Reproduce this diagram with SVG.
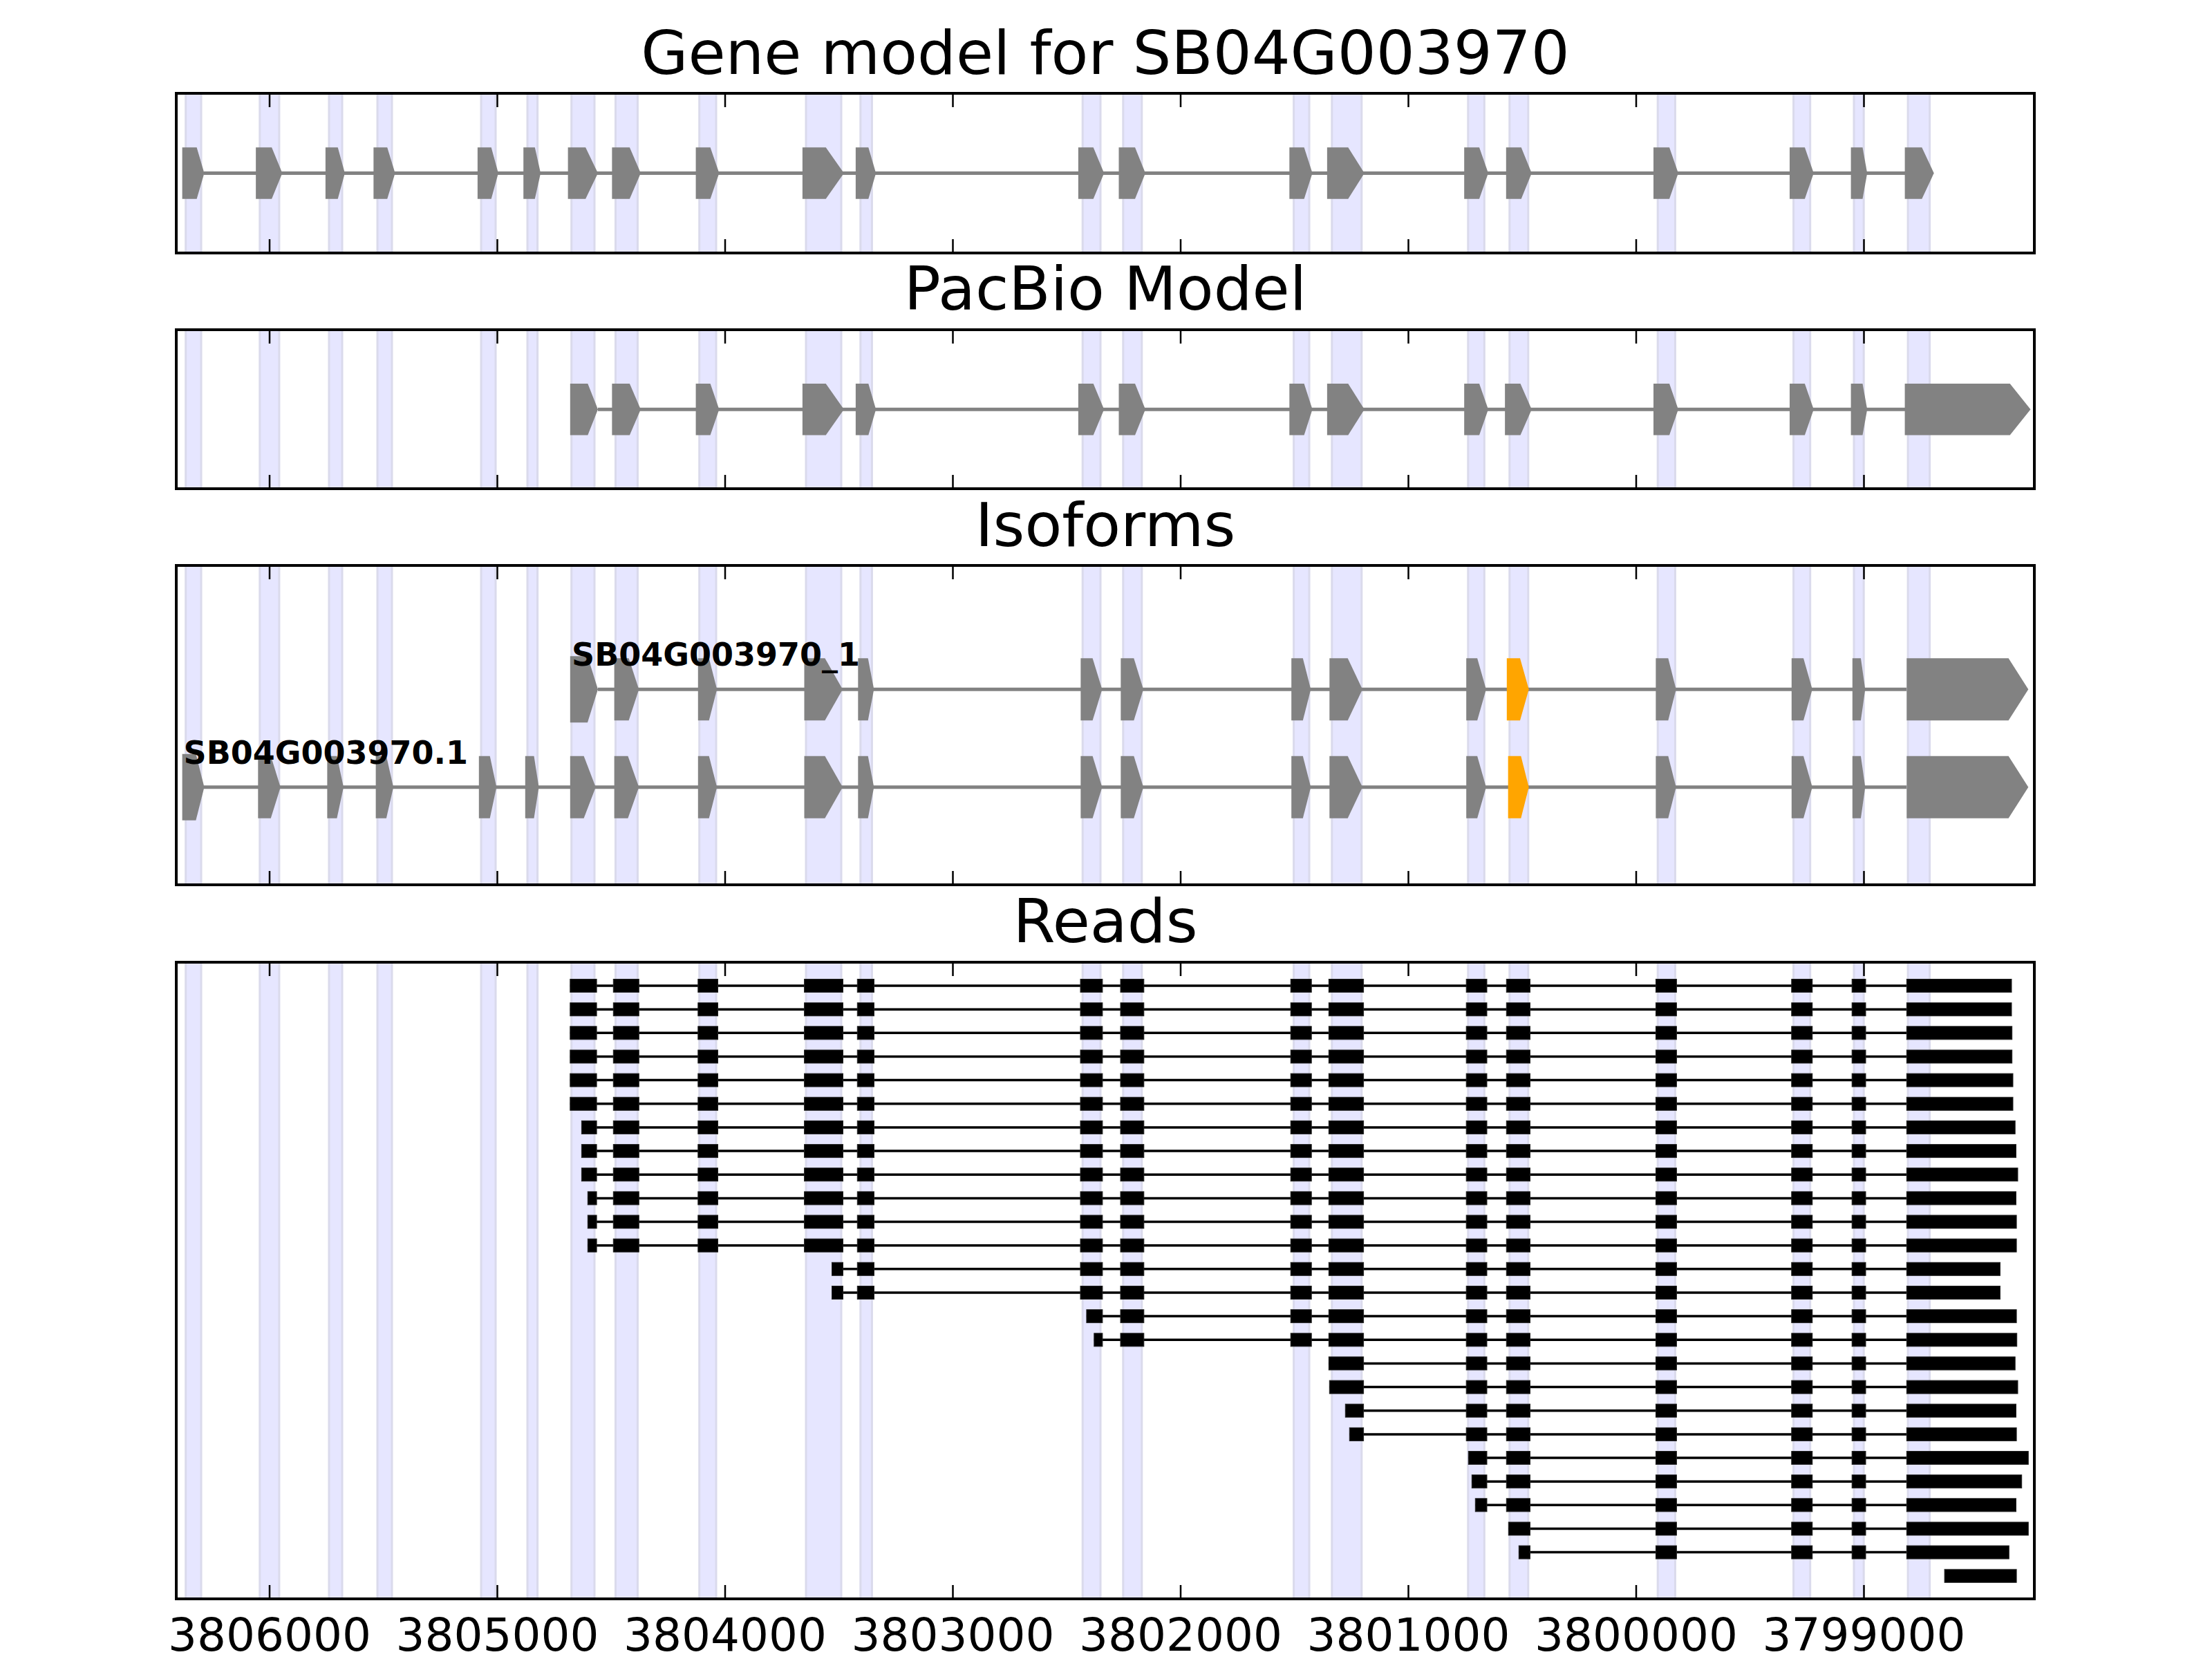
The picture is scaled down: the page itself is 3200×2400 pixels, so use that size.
<svg xmlns="http://www.w3.org/2000/svg" width="3200" height="2400" viewBox="0 0 3200 2400">
<style>
.band{fill:#E6E6FF;stroke:#DADAEC;stroke-width:3}
.ex{fill:#828282}
.or{fill:#FFA500}
.intr{stroke:#828282;stroke-width:5}
.rex{fill:#000;stroke:#222;stroke-width:1}
.rin{stroke:#000;stroke-width:3.5}
.frame{fill:none;stroke:#000;stroke-width:4}
.tick{stroke:#000;stroke-width:2.5}
.title{font-family:'DejaVu Sans',sans-serif;font-size:88px;text-anchor:middle;fill:#000}
.tl{font-family:'DejaVu Sans',sans-serif;font-size:66px;text-anchor:middle;fill:#000}
.lab{font-family:'DejaVu Sans',sans-serif;font-weight:bold;font-size:46px;fill:#000}
</style>
<defs>
<g id="bands">
<rect class="band" x="268.7" y="0" width="22.3" height="2400"/>
<rect class="band" x="375.8" y="0" width="28.1" height="2400"/>
<rect class="band" x="476" y="0" width="19" height="2400"/>
<rect class="band" x="546" y="0" width="21" height="2400"/>
<rect class="band" x="696" y="0" width="21" height="2400"/>
<rect class="band" x="763" y="0" width="14.6" height="2400"/>
<rect class="band" x="826.7" y="0" width="33.3" height="2400"/>
<rect class="band" x="890.5" y="0" width="31.9" height="2400"/>
<rect class="band" x="1011.7" y="0" width="24.3" height="2400"/>
<rect class="band" x="1166" y="0" width="51" height="2400"/>
<rect class="band" x="1244.8" y="0" width="16.6" height="2400"/>
<rect class="band" x="1566.2" y="0" width="25.8" height="2400"/>
<rect class="band" x="1624.8" y="0" width="27" height="2400"/>
<rect class="band" x="1871.6" y="0" width="22.4" height="2400"/>
<rect class="band" x="1926.8" y="0" width="43" height="2400"/>
<rect class="band" x="2123.8" y="0" width="23.5" height="2400"/>
<rect class="band" x="2183.8" y="0" width="27" height="2400"/>
<rect class="band" x="2398.2" y="0" width="25.2" height="2400"/>
<rect class="band" x="2594.6" y="0" width="24.1" height="2400"/>
<rect class="band" x="2682" y="0" width="14.2" height="2400"/>
<rect class="band" x="2760.1" y="0" width="31.5" height="2400"/>
</g>
<clipPath id="c1"><rect x="255" y="135" width="2688" height="231"/></clipPath>
<clipPath id="c2"><rect x="255" y="477" width="2688" height="230"/></clipPath>
<clipPath id="c3"><rect x="255" y="818" width="2688" height="462"/></clipPath>
<clipPath id="c4"><rect x="255" y="1392" width="2688" height="921"/></clipPath>
<g id="X18">
<rect class="rex" x="2395.4" y="-9.5" width="30" height="19"/>
<rect class="rex" x="2591.8" y="-9.5" width="30" height="19"/>
<rect class="rex" x="2679.2" y="-9.5" width="19.8" height="19"/>
</g>
<g id="X17"><rect class="rex" x="2179.3" y="-9.5" width="34.2" height="19"/><use href="#X18"/></g>
<g id="X16"><rect class="rex" x="2121.2" y="-9.5" width="29.8" height="19"/><use href="#X17"/></g>
<g id="X13">
<rect class="rex" x="1621" y="-9.5" width="33.8" height="19"/>
<rect class="rex" x="1867.2" y="-9.5" width="30" height="19"/>
<rect class="rex" x="1922.3" y="-9.5" width="50.3" height="19"/>
<use href="#X16"/>
</g>
<g id="X11">
<rect class="rex" x="1240.3" y="-9.5" width="24.2" height="19"/>
<rect class="rex" x="1563" y="-9.5" width="31.9" height="19"/>
<use href="#X13"/>
</g>
<g id="X8">
<rect class="rex" x="887.3" y="-9.5" width="37" height="19"/>
<rect class="rex" x="1009.8" y="-9.5" width="28.7" height="19"/>
<rect class="rex" x="1163.6" y="-9.5" width="55.9" height="19"/>
<use href="#X11"/>
</g>
</defs>
<rect x="0" y="0" width="3200" height="2400" fill="#fff"/>

<g id="bands-all">
<use href="#bands" clip-path="url(#c1)"/>
<use href="#bands" clip-path="url(#c2)"/>
<use href="#bands" clip-path="url(#c3)"/>
<use href="#bands" clip-path="url(#c4)"/>
</g>

<g id="panel-gene-model">
<line class="intr" x1="295" y1="250.5" x2="2756" y2="250.5"/>
<polygon class="ex" points="263.6,213.3 284.6,213.3 295.5,250.5 284.6,287.7 263.6,287.7"/>
<polygon class="ex" points="370.1,213.3 393.1,213.3 408.4,250.5 393.1,287.7 370.1,287.7"/>
<polygon class="ex" points="470.9,213.3 488.7,213.3 498.9,250.5 488.7,287.7 470.9,287.7"/>
<polygon class="ex" points="540.4,213.3 560.2,213.3 571.6,250.5 560.2,287.7 540.4,287.7"/>
<polygon class="ex" points="690.9,213.3 710.7,213.3 720.9,250.5 710.7,287.7 690.9,287.7"/>
<polygon class="ex" points="757.2,213.3 773.8,213.3 782.1,250.5 773.8,287.7 757.2,287.7"/>
<polygon class="ex" points="821.6,213.3 847.1,213.3 865,250.5 847.1,287.7 821.6,287.7"/>
<polygon class="ex" points="885.4,213.3 910.9,213.3 926.9,250.5 910.9,287.7 885.4,287.7"/>
<polygon class="ex" points="1006.6,213.3 1027.6,213.3 1040.4,250.5 1027.6,287.7 1006.6,287.7"/>
<polygon class="ex" points="1160.9,213.3 1194.7,213.3 1220.9,250.5 1194.7,287.7 1160.9,287.7"/>
<polygon class="ex" points="1237.9,213.3 1256.3,213.3 1267.2,250.5 1256.3,287.7 1237.9,287.7"/>
<polygon class="ex" points="1559.9,213.3 1581.7,213.3 1597.2,250.5 1581.7,287.7 1559.9,287.7"/>
<polygon class="ex" points="1618.5,213.3 1642,213.3 1657,250.5 1642,287.7 1618.5,287.7"/>
<polygon class="ex" points="1865.3,213.3 1886.6,213.3 1898.6,250.5 1886.6,287.7 1865.3,287.7"/>
<polygon class="ex" points="1919.9,213.3 1950.3,213.3 1973.8,250.5 1950.3,287.7 1919.9,287.7"/>
<polygon class="ex" points="2118.2,213.3 2140,213.3 2153,250.5 2140,287.7 2118.2,287.7"/>
<polygon class="ex" points="2178.8,213.3 2200.7,213.3 2215.8,250.5 2200.7,287.7 2178.8,287.7"/>
<polygon class="ex" points="2392,213.3 2415,213.3 2427.9,250.5 2415,287.7 2392,287.7"/>
<polygon class="ex" points="2589,213.3 2610.9,213.3 2623.8,250.5 2610.9,287.7 2589,287.7"/>
<polygon class="ex" points="2677.6,213.3 2694.5,213.3 2701.2,250.5 2694.5,287.7 2677.6,287.7"/>
<polygon class="ex" points="2755.6,213.3 2780.3,213.3 2797.7,250.5 2780.3,287.7 2755.6,287.7"/>
</g>

<g id="panel-pacbio">
<line class="intr" x1="865" y1="592.3" x2="2756" y2="592.3"/>
<polygon class="ex" points="824.8,555.1 850.3,555.1 865,592.3 850.3,629.5 824.8,629.5"/>
<polygon class="ex" points="885.4,555.1 910.9,555.1 926.9,592.3 910.9,629.5 885.4,629.5"/>
<polygon class="ex" points="1006.6,555.1 1027.6,555.1 1040.4,592.3 1027.6,629.5 1006.6,629.5"/>
<polygon class="ex" points="1160.9,555.1 1194.7,555.1 1220.9,592.3 1194.7,629.5 1160.9,629.5"/>
<polygon class="ex" points="1237.9,555.1 1256.3,555.1 1267.2,592.3 1256.3,629.5 1237.9,629.5"/>
<polygon class="ex" points="1559.9,555.1 1581.7,555.1 1597.2,592.3 1581.7,629.5 1559.9,629.5"/>
<polygon class="ex" points="1618.5,555.1 1642,555.1 1657,592.3 1642,629.5 1618.5,629.5"/>
<polygon class="ex" points="1865.3,555.1 1886.6,555.1 1898.6,592.3 1886.6,629.5 1865.3,629.5"/>
<polygon class="ex" points="1919.9,555.1 1950.3,555.1 1973.8,592.3 1950.3,629.5 1919.9,629.5"/>
<polygon class="ex" points="2118.2,555.1 2140,555.1 2153,592.3 2140,629.5 2118.2,629.5"/>
<polygon class="ex" points="2177.1,555.1 2199.5,555.1 2215.8,592.3 2199.5,629.5 2177.1,629.5"/>
<polygon class="ex" points="2392,555.1 2415,555.1 2427.9,592.3 2415,629.5 2392,629.5"/>
<polygon class="ex" points="2589,555.1 2610.9,555.1 2623.8,592.3 2610.9,629.5 2589,629.5"/>
<polygon class="ex" points="2677.6,555.1 2694.5,555.1 2701.2,592.3 2694.5,629.5 2677.6,629.5"/>
<polygon class="ex" points="2755.6,555.1 2907.7,555.1 2937.5,592.3 2907.7,629.5 2755.6,629.5"/>
</g>

<g id="panel-isoforms">
<g id="isoform-SB04G003970_1">
<line class="intr" x1="865" y1="997.3" x2="2758" y2="997.3"/>
<polygon class="ex" points="824.8,949.3 850,949.3 865,997.3 850,1045.3 824.8,1045.3"/>
<polygon class="ex" points="888.6,952.3 909.6,952.3 924.3,997.3 909.6,1042.3 888.6,1042.3"/>
<polygon class="ex" points="1009.8,952.3 1025.7,952.3 1037.2,997.3 1025.7,1042.3 1009.8,1042.3"/>
<polygon class="ex" points="1163.5,952.3 1193.4,952.3 1219,997.3 1193.4,1042.3 1163.5,1042.3"/>
<polygon class="ex" points="1241.3,952.3 1255.7,952.3 1264.3,997.3 1255.7,1042.3 1241.3,1042.3"/>
<polygon class="ex" points="1563.4,952.3 1580.6,952.3 1594.4,997.3 1580.6,1042.3 1563.4,1042.3"/>
<polygon class="ex" points="1621.4,952.3 1640.3,952.3 1654.1,997.3 1640.3,1042.3 1621.4,1042.3"/>
<polygon class="ex" points="1868.2,952.3 1884.8,952.3 1896.3,997.3 1884.8,1042.3 1868.2,1042.3"/>
<polygon class="ex" points="1923.3,952.3 1949.7,952.3 1971,997.3 1949.7,1042.3 1923.3,1042.3"/>
<polygon class="ex" points="2121.2,952.3 2137.1,952.3 2149.9,997.3 2137.1,1042.3 2121.2,1042.3"/>
<polygon class="or" points="2179.8,952.3 2199,952.3 2211.7,997.3 2199,1042.3 2179.8,1042.3"/>
<polygon class="ex" points="2395.4,952.3 2413.3,952.3 2424.7,997.3 2413.3,1042.3 2395.4,1042.3"/>
<polygon class="ex" points="2591.8,952.3 2609,952.3 2621.8,997.3 2609,1042.3 2591.8,1042.3"/>
<polygon class="ex" points="2679.8,952.3 2692,952.3 2698.3,997.3 2692,1042.3 2679.8,1042.3"/>
<polygon class="ex" points="2758.3,952.3 2905.6,952.3 2934.3,997.3 2905.6,1042.3 2758.3,1042.3"/>
<text class="lab" x="827" y="963">SB04G003970_1</text>
</g>
<g id="isoform-SB04G003970.1">
<line class="intr" x1="295" y1="1138.7" x2="2758" y2="1138.7"/>
<polygon class="ex" points="263.6,1090.7 283.4,1090.7 295.5,1138.7 283.4,1186.7 263.6,1186.7"/>
<polygon class="ex" points="373.3,1093.7 391.8,1093.7 405.8,1138.7 391.8,1183.7 373.3,1183.7"/>
<polygon class="ex" points="473.4,1093.7 487.4,1093.7 497,1138.7 487.4,1183.7 473.4,1183.7"/>
<polygon class="ex" points="543.6,1093.7 558.9,1093.7 569.1,1138.7 558.9,1183.7 543.6,1183.7"/>
<polygon class="ex" points="692.8,1093.7 708.7,1093.7 718.3,1138.7 708.7,1183.7 692.8,1183.7"/>
<polygon class="ex" points="759.8,1093.7 772.5,1093.7 779.5,1138.7 772.5,1183.7 759.8,1183.7"/>
<polygon class="ex" points="824.8,1093.7 844.6,1093.7 861.8,1138.7 844.6,1183.7 824.8,1183.7"/>
<polygon class="ex" points="888.6,1093.7 908.4,1093.7 924.3,1138.7 908.4,1183.7 888.6,1183.7"/>
<polygon class="ex" points="1009.8,1093.7 1025.7,1093.7 1037.2,1138.7 1025.7,1183.7 1009.8,1183.7"/>
<polygon class="ex" points="1163.5,1093.7 1193.4,1093.7 1219,1138.7 1193.4,1183.7 1163.5,1183.7"/>
<polygon class="ex" points="1241.3,1093.7 1255.7,1093.7 1264.3,1138.7 1255.7,1183.7 1241.3,1183.7"/>
<polygon class="ex" points="1563.4,1093.7 1580.6,1093.7 1594.4,1138.7 1580.6,1183.7 1563.4,1183.7"/>
<polygon class="ex" points="1621.4,1093.7 1640.3,1093.7 1654.1,1138.7 1640.3,1183.7 1621.4,1183.7"/>
<polygon class="ex" points="1868.2,1093.7 1884.8,1093.7 1896.3,1138.7 1884.8,1183.7 1868.2,1183.7"/>
<polygon class="ex" points="1923.3,1093.7 1949.7,1093.7 1971,1138.7 1949.7,1183.7 1923.3,1183.7"/>
<polygon class="ex" points="2121.2,1093.7 2137.1,1093.7 2149.9,1138.7 2137.1,1183.7 2121.2,1183.7"/>
<polygon class="or" points="2181.7,1093.7 2200.3,1093.7 2211.7,1138.7 2200.3,1183.7 2181.7,1183.7"/>
<polygon class="ex" points="2395.4,1093.7 2413.3,1093.7 2424.7,1138.7 2413.3,1183.7 2395.4,1183.7"/>
<polygon class="ex" points="2591.8,1093.7 2609,1093.7 2621.8,1138.7 2609,1183.7 2591.8,1183.7"/>
<polygon class="ex" points="2679.8,1093.7 2692,1093.7 2698.3,1138.7 2692,1183.7 2679.8,1183.7"/>
<polygon class="ex" points="2758.3,1093.7 2905.6,1093.7 2934.3,1138.7 2905.6,1183.7 2758.3,1183.7"/>
<text class="lab" x="265.5" y="1105">SB04G003970.1</text>
</g>
</g>

<g id="panel-reads">
<g id="read-0" transform="translate(0,1426)"><line class="rin" x1="824.8" y1="0" x2="2758.3" y2="0"/><rect class="rex" x="824.8" y="-9.5" width="38.3" height="19"/><use href="#X8"/><rect class="rex" x="2758.3" y="-9.5" width="151.7" height="19"/></g>
<g id="read-1" transform="translate(0,1460.2)"><line class="rin" x1="824.8" y1="0" x2="2758.3" y2="0"/><rect class="rex" x="824.8" y="-9.5" width="38.3" height="19"/><use href="#X8"/><rect class="rex" x="2758.3" y="-9.5" width="151.7" height="19"/></g>
<g id="read-2" transform="translate(0,1494.3)"><line class="rin" x1="824.8" y1="0" x2="2758.3" y2="0"/><rect class="rex" x="824.8" y="-9.5" width="38.3" height="19"/><use href="#X8"/><rect class="rex" x="2758.3" y="-9.5" width="152.4" height="19"/></g>
<g id="read-3" transform="translate(0,1528.5)"><line class="rin" x1="824.8" y1="0" x2="2758.3" y2="0"/><rect class="rex" x="824.8" y="-9.5" width="38.3" height="19"/><use href="#X8"/><rect class="rex" x="2758.3" y="-9.5" width="152.4" height="19"/></g>
<g id="read-4" transform="translate(0,1562.6)"><line class="rin" x1="824.8" y1="0" x2="2758.3" y2="0"/><rect class="rex" x="824.8" y="-9.5" width="38.3" height="19"/><use href="#X8"/><rect class="rex" x="2758.3" y="-9.5" width="153.7" height="19"/></g>
<g id="read-5" transform="translate(0,1596.8)"><line class="rin" x1="824.8" y1="0" x2="2758.3" y2="0"/><rect class="rex" x="824.8" y="-9.5" width="38.3" height="19"/><use href="#X8"/><rect class="rex" x="2758.3" y="-9.5" width="153.7" height="19"/></g>
<g id="read-6" transform="translate(0,1630.9)"><line class="rin" x1="841.4" y1="0" x2="2758.3" y2="0"/><rect class="rex" x="841.4" y="-9.5" width="21.7" height="19"/><use href="#X8"/><rect class="rex" x="2758.3" y="-9.5" width="156.9" height="19"/></g>
<g id="read-7" transform="translate(0,1665.1)"><line class="rin" x1="841.4" y1="0" x2="2758.3" y2="0"/><rect class="rex" x="841.4" y="-9.5" width="21.7" height="19"/><use href="#X8"/><rect class="rex" x="2758.3" y="-9.5" width="158.2" height="19"/></g>
<g id="read-8" transform="translate(0,1699.2)"><line class="rin" x1="841.4" y1="0" x2="2758.3" y2="0"/><rect class="rex" x="841.4" y="-9.5" width="21.7" height="19"/><use href="#X8"/><rect class="rex" x="2758.3" y="-9.5" width="160.7" height="19"/></g>
<g id="read-9" transform="translate(0,1733.4)"><line class="rin" x1="850.3" y1="0" x2="2758.3" y2="0"/><rect class="rex" x="850.3" y="-9.5" width="12.8" height="19"/><use href="#X8"/><rect class="rex" x="2758.3" y="-9.5" width="158.2" height="19"/></g>
<g id="read-10" transform="translate(0,1767.5)"><line class="rin" x1="850.3" y1="0" x2="2758.3" y2="0"/><rect class="rex" x="850.3" y="-9.5" width="12.8" height="19"/><use href="#X8"/><rect class="rex" x="2758.3" y="-9.5" width="158.8" height="19"/></g>
<g id="read-11" transform="translate(0,1801.7)"><line class="rin" x1="850.3" y1="0" x2="2758.3" y2="0"/><rect class="rex" x="850.3" y="-9.5" width="12.8" height="19"/><use href="#X8"/><rect class="rex" x="2758.3" y="-9.5" width="158.8" height="19"/></g>
<g id="read-12" transform="translate(0,1835.8)"><line class="rin" x1="1203.5" y1="0" x2="2758.3" y2="0"/><rect class="rex" x="1203.5" y="-9.5" width="16" height="19"/><use href="#X11"/><rect class="rex" x="2758.3" y="-9.5" width="135.2" height="19"/></g>
<g id="read-13" transform="translate(0,1870)"><line class="rin" x1="1203.5" y1="0" x2="2758.3" y2="0"/><rect class="rex" x="1203.5" y="-9.5" width="16" height="19"/><use href="#X11"/><rect class="rex" x="2758.3" y="-9.5" width="135.2" height="19"/></g>
<g id="read-14" transform="translate(0,1904.1)"><line class="rin" x1="1571.9" y1="0" x2="2758.3" y2="0"/><rect class="rex" x="1571.9" y="-9.5" width="23" height="19"/><use href="#X13"/><rect class="rex" x="2758.3" y="-9.5" width="158.8" height="19"/></g>
<g id="read-15" transform="translate(0,1938.3)"><line class="rin" x1="1582.8" y1="0" x2="2758.3" y2="0"/><rect class="rex" x="1582.8" y="-9.5" width="12.1" height="19"/><use href="#X13"/><rect class="rex" x="2758.3" y="-9.5" width="159.4" height="19"/></g>
<g id="read-16" transform="translate(0,1972.4)"><line class="rin" x1="1922.3" y1="0" x2="2758.3" y2="0"/><rect class="rex" x="1922.3" y="-9.5" width="50.3" height="19"/><use href="#X16"/><rect class="rex" x="2758.3" y="-9.5" width="156.9" height="19"/></g>
<g id="read-17" transform="translate(0,2006.6)"><line class="rin" x1="1923.3" y1="0" x2="2758.3" y2="0"/><rect class="rex" x="1923.3" y="-9.5" width="49.3" height="19"/><use href="#X16"/><rect class="rex" x="2758.3" y="-9.5" width="160.7" height="19"/></g>
<g id="read-18" transform="translate(0,2040.7)"><line class="rin" x1="1946.3" y1="0" x2="2758.3" y2="0"/><rect class="rex" x="1946.3" y="-9.5" width="26.3" height="19"/><use href="#X16"/><rect class="rex" x="2758.3" y="-9.5" width="158.2" height="19"/></g>
<g id="read-19" transform="translate(0,2074.9)"><line class="rin" x1="1952.3" y1="0" x2="2758.3" y2="0"/><rect class="rex" x="1952.3" y="-9.5" width="20.3" height="19"/><use href="#X16"/><rect class="rex" x="2758.3" y="-9.5" width="158.8" height="19"/></g>
<g id="read-20" transform="translate(0,2109)"><line class="rin" x1="2124.3" y1="0" x2="2758.3" y2="0"/><rect class="rex" x="2124.3" y="-9.5" width="26.7" height="19"/><use href="#X17"/><rect class="rex" x="2758.3" y="-9.5" width="176" height="19"/></g>
<g id="read-21" transform="translate(0,2143.2)"><line class="rin" x1="2129.3" y1="0" x2="2758.3" y2="0"/><rect class="rex" x="2129.3" y="-9.5" width="21.7" height="19"/><use href="#X17"/><rect class="rex" x="2758.3" y="-9.5" width="166.4" height="19"/></g>
<g id="read-22" transform="translate(0,2177.3)"><line class="rin" x1="2134.3" y1="0" x2="2758.3" y2="0"/><rect class="rex" x="2134.3" y="-9.5" width="16.7" height="19"/><use href="#X17"/><rect class="rex" x="2758.3" y="-9.5" width="158.2" height="19"/></g>
<g id="read-23" transform="translate(0,2211.5)"><line class="rin" x1="2182.3" y1="0" x2="2758.3" y2="0"/><rect class="rex" x="2182.3" y="-9.5" width="31.2" height="19"/><use href="#X18"/><rect class="rex" x="2758.3" y="-9.5" width="176" height="19"/></g>
<g id="read-24" transform="translate(0,2245.6)"><line class="rin" x1="2197.3" y1="0" x2="2758.3" y2="0"/><rect class="rex" x="2197.3" y="-9.5" width="16.2" height="19"/><use href="#X18"/><rect class="rex" x="2758.3" y="-9.5" width="148" height="19"/></g>
<g id="read-25" transform="translate(0,2279.8)"><rect class="rex" x="2813.1" y="-9.5" width="104" height="19"/></g>
</g>

<g id="axes">
<rect class="frame" x="255" y="135" width="2688" height="231"/>
<rect class="frame" x="255" y="477" width="2688" height="230"/>
<rect class="frame" x="255" y="818" width="2688" height="462"/>
<rect class="frame" x="255" y="1392" width="2688" height="921"/>
<path class="tick" d="M390,135v20M719.5,135v20M1049,135v20M1378.5,135v20M1708,135v20M2037.5,135v20M2367,135v20M2696.5,135v20
M390,366v-20M719.5,366v-20M1049,366v-20M1378.5,366v-20M1708,366v-20M2037.5,366v-20M2367,366v-20M2696.5,366v-20
M390,477v20M719.5,477v20M1049,477v20M1378.5,477v20M1708,477v20M2037.5,477v20M2367,477v20M2696.5,477v20
M390,707v-20M719.5,707v-20M1049,707v-20M1378.5,707v-20M1708,707v-20M2037.5,707v-20M2367,707v-20M2696.5,707v-20
M390,818v20M719.5,818v20M1049,818v20M1378.5,818v20M1708,818v20M2037.5,818v20M2367,818v20M2696.5,818v20
M390,1280v-20M719.5,1280v-20M1049,1280v-20M1378.5,1280v-20M1708,1280v-20M2037.5,1280v-20M2367,1280v-20M2696.5,1280v-20
M390,1392v20M719.5,1392v20M1049,1392v20M1378.5,1392v20M1708,1392v20M2037.5,1392v20M2367,1392v20M2696.5,1392v20
M390,2313v-20M719.5,2313v-20M1049,2313v-20M1378.5,2313v-20M1708,2313v-20M2037.5,2313v-20M2367,2313v-20M2696.5,2313v-20"/>
<text class="tl" x="390" y="2388">3806000</text>
<text class="tl" x="719.5" y="2388">3805000</text>
<text class="tl" x="1049" y="2388">3804000</text>
<text class="tl" x="1378.5" y="2388">3803000</text>
<text class="tl" x="1708" y="2388">3802000</text>
<text class="tl" x="2037.5" y="2388">3801000</text>
<text class="tl" x="2367" y="2388">3800000</text>
<text class="tl" x="2696.5" y="2388">3799000</text>
</g>

<g id="titles">
<text class="title" x="1599" y="107">Gene model for SB04G003970</text>
<text class="title" x="1599" y="448">PacBio Model</text>
<text class="title" x="1599" y="790">Isoforms</text>
<text class="title" x="1599" y="1363">Reads</text>
</g>
</svg>
